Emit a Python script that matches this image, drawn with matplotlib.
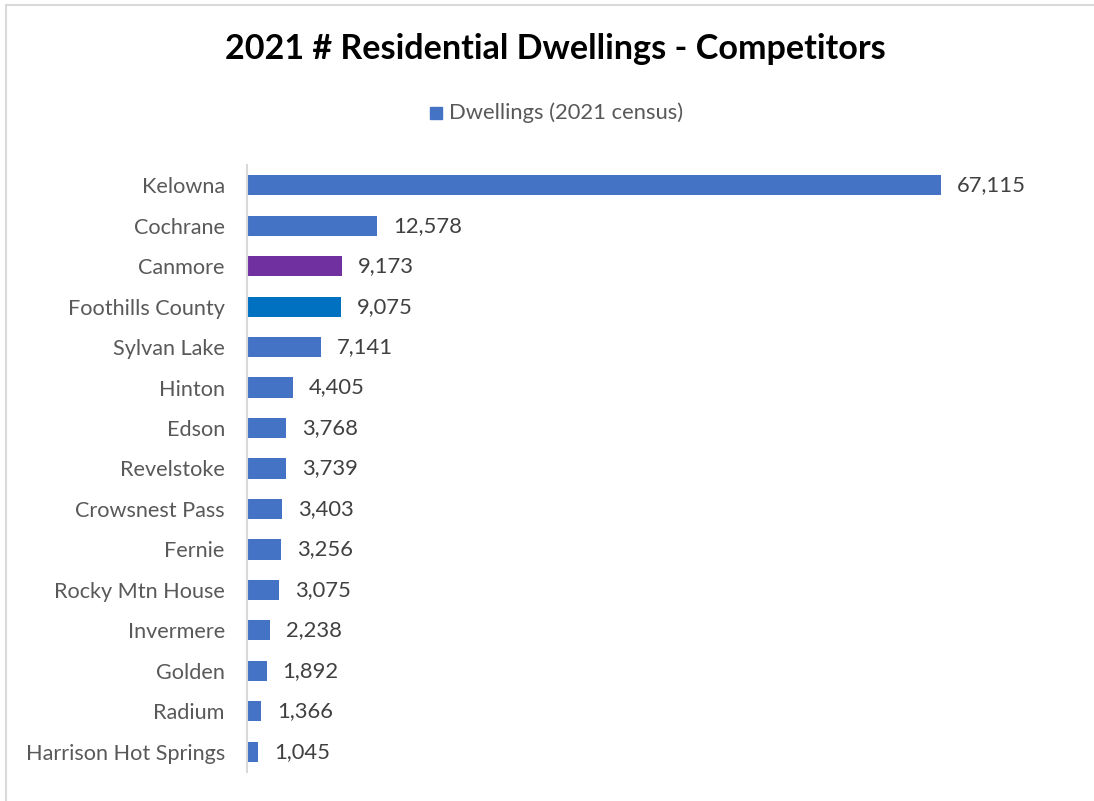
import matplotlib.pyplot as plt
from matplotlib.patches import Rectangle

# Dwelling counts by community, 2021 census
comunidades = ['Kelowna', 'Cochrane', 'Canmore', 'Foothills County', 'Sylvan Lake',
               'Hinton', 'Edson', 'Revelstoke', 'Crowsnest Pass', 'Fernie',
               'Rocky Mtn House', 'Invermere', 'Golden', 'Radium', 'Harrison Hot Springs']
moradias = [67115, 12578, 9173, 9075, 7141, 4405, 3768, 3739, 3403, 3256,
            3075, 2238, 1892, 1366, 1045]
cores = ['#4472C4', '#4472C4', '#7030A0', '#0070C0'] + ['#4472C4'] * 11

plt.rcParams['font.family'] = ['Lato', 'DejaVu Sans']

fig = plt.figure(figsize=(10.94, 8.01), dpi=100)
ax = fig.add_axes([247 / 1094, 1 - 772 / 801, (1050 - 247) / 1094, (772 - 165) / 801])

y = range(len(comunidades))
ax.barh(y, moradias, height=0.5, color=cores)
ax.set_ylim(len(comunidades) - 0.5, -0.5)
ax.set_xlim(0, 67115 * (1050 - 247) / 694)

ax.set_yticks(list(y))
ax.set_yticklabels(comunidades, fontsize=15.6, color='#595959')
ax.tick_params(axis='y', length=0, pad=16)
ax.set_xticks([])

for s in ['top', 'right', 'bottom']:
    ax.spines[s].set_visible(False)
ax.spines['left'].set_color('#D9D9D9')
ax.spines['left'].set_linewidth(1.5)

# Value labels next to each bar
for i, v in enumerate(moradias):
    ax.text(v + 1550, i, f'{v:,}', va='center', ha='left', fontsize=15.8, color='#404040')

fig.text(555 / 1094, 1 - 49 / 801, '2021 # Residential Dwellings - Competitors',
         ha='center', va='center', fontsize=24.6, fontweight='bold', color='black')

# Legend entry
fig.patches.append(Rectangle((430 / 1094, 1 - 119 / 801), 12 / 1094, 12 / 801,
                             transform=fig.transFigure, color='#4472C4'))
fig.text(449 / 1094, 1 - 113 / 801, 'Dwellings (2021 census)', ha='left', va='center',
         fontsize=15.8, color='#595959')

# Chart frame
fig.patches.append(Rectangle((6 / 1094, -0.1), 1.2, 1 - 5 / 801 + 0.1,
                             transform=fig.transFigure, fill=False,
                             edgecolor='#D9D9D9', linewidth=1.5))

fig.savefig('out.png', dpi=100)
